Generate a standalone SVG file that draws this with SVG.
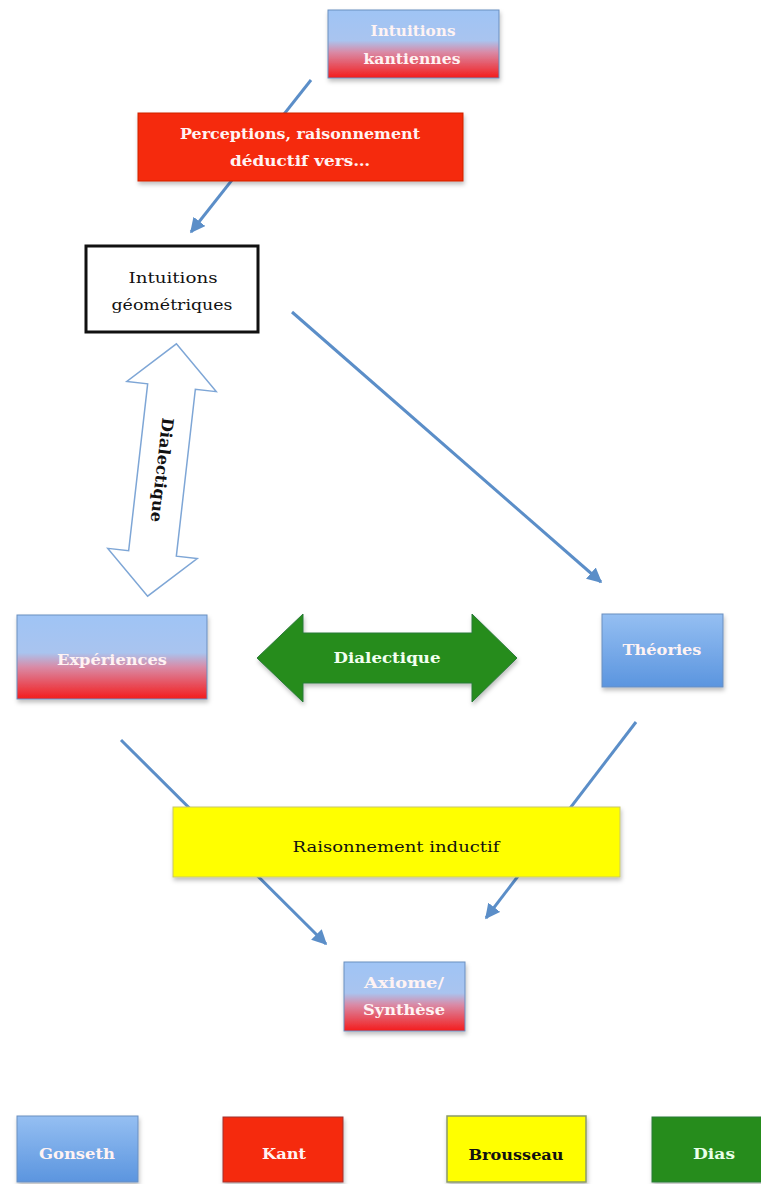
<svg xmlns="http://www.w3.org/2000/svg" width="761" height="1184" viewBox="0 0 761 1184">
<defs>
<linearGradient id="gBR" x1="0" y1="0" x2="0" y2="1">
<stop offset="0" stop-color="#9fc4f5"/>
<stop offset="0.45" stop-color="#a9c4ef"/>
<stop offset="0.62" stop-color="#d98aa6"/>
<stop offset="1" stop-color="#f41c1c"/>
</linearGradient>
<linearGradient id="gB" x1="0" y1="0" x2="0" y2="1">
<stop offset="0" stop-color="#95bff2"/>
<stop offset="1" stop-color="#5b95df"/>
</linearGradient>
<filter id="sh" x="-10%" y="-10%" width="130%" height="140%">
<feDropShadow dx="1" dy="3" stdDeviation="2" flood-color="#000" flood-opacity="0.25"/>
</filter>
<marker id="ah" viewBox="0 0 10 10" refX="9" refY="5" markerWidth="5" markerHeight="5" orient="auto">
<path d="M0,0 L10,5 L0,10 z" fill="#5b8ec8"/>
</marker>
<style>
text{font-family:"DejaVu Serif","Liberation Serif",serif;font-size:15px;text-anchor:middle;dominant-baseline:central;font-weight:bold}
.w{fill:#fff3f3}
.k{fill:#111}
.n{font-weight:normal}
.bx{stroke:#6a8fc0;stroke-width:1;filter:url(#sh)}
.con{stroke:#5b8ec8;stroke-width:3;fill:none}
</style>
</defs>

<g id="connectors">
<line class="con" x1="311" y1="80" x2="191" y2="232" marker-end="url(#ah)"/>
<line class="con" x1="292" y1="312" x2="601" y2="582" marker-end="url(#ah)"/>
<line class="con" x1="121" y1="740" x2="326" y2="944" marker-end="url(#ah)"/>
<line class="con" x1="636" y1="722" x2="486" y2="918" marker-end="url(#ah)"/>
</g>

<g id="kant-intuitions">
<rect class="bx" x="328" y="10" width="171" height="68" fill="url(#gBR)"/>
<text class="w" x="413" y="31" textLength="85" lengthAdjust="spacingAndGlyphs">Intuitions</text>
<text class="w" x="412" y="59" textLength="97" lengthAdjust="spacingAndGlyphs">kantiennes</text>
</g>

<g id="perceptions">
<rect x="138" y="113" width="325" height="68" fill="#f52a07" stroke="#d02000" stroke-width="1" filter="url(#sh)"/>
<text class="w" x="300" y="134" textLength="240" lengthAdjust="spacingAndGlyphs">Perceptions, raisonnement</text>
<text class="w" x="300" y="161" textLength="140" lengthAdjust="spacingAndGlyphs">déductif vers…</text>
</g>

<g id="intuitions-geometriques">
<rect x="86" y="246" width="172" height="86" fill="#fff" stroke="#111" stroke-width="3"/>
<text class="k n" x="173" y="278" textLength="89" lengthAdjust="spacingAndGlyphs">Intuitions</text>
<text class="k n" x="172" y="305" textLength="121" lengthAdjust="spacingAndGlyphs">géométriques</text>
</g>

<g id="dialectique-vertical" transform="translate(162,470) rotate(6.5)">
<polygon points="0,-127 45,-84 24,-84 24,84 45,84 0,127 -45,84 -24,84 -24,-84 -45,-84" fill="#fff" stroke="#7ea6d6" stroke-width="1.5"/>
<text class="k" x="0" y="0" transform="rotate(90)" style="font-size:16px" textLength="105" lengthAdjust="spacingAndGlyphs">Dialectique</text>
</g>

<g id="experiences">
<rect class="bx" x="17" y="615" width="190" height="84" fill="url(#gBR)"/>
<text class="w" x="112" y="660" textLength="110" lengthAdjust="spacingAndGlyphs">Expériences</text>
</g>

<g id="dialectique-horizontal">
<polygon points="257,658 303,614 303,633 472,633 472,614 517,658 472,702 472,683 303,683 303,702" fill="#268c1c" stroke="#2a7a3a" stroke-width="1" filter="url(#sh)"/>
<text class="w" x="387" y="658" textLength="107" lengthAdjust="spacingAndGlyphs" style="fill:#f2fff0">Dialectique</text>
</g>

<g id="theories">
<rect class="bx" x="602" y="614" width="121" height="73" fill="url(#gB)"/>
<text class="w" x="662" y="650" textLength="79" lengthAdjust="spacingAndGlyphs">Théories</text>
</g>

<g id="raisonnement-inductif">
<rect x="173" y="807" width="447" height="70" fill="#ffff00" stroke="#c8c86a" stroke-width="1" filter="url(#sh)"/>
<text class="k n" x="396" y="847" textLength="207" lengthAdjust="spacingAndGlyphs">Raisonnement inductif</text>
</g>

<g id="axiome">
<rect class="bx" x="344" y="962" width="121" height="69" fill="url(#gBR)"/>
<text class="w" x="404" y="983" textLength="80" lengthAdjust="spacingAndGlyphs">Axiome/</text>
<text class="w" x="404" y="1010" textLength="82" lengthAdjust="spacingAndGlyphs">Synthèse</text>
</g>

<g id="legend-gonseth">
<rect class="bx" x="17" y="1116" width="121" height="66" fill="url(#gB)"/>
<text class="w" x="77" y="1154" textLength="76" lengthAdjust="spacingAndGlyphs">Gonseth</text>
</g>
<g id="legend-kant">
<rect x="223" y="1117" width="120" height="65" fill="#f52a07" stroke="#a03030" stroke-width="1" filter="url(#sh)"/>
<text class="w" x="284" y="1154" textLength="44" lengthAdjust="spacingAndGlyphs">Kant</text>
</g>
<g id="legend-brousseau">
<rect x="447" y="1116" width="139" height="66" fill="#ffff00" stroke="#8a9a6a" stroke-width="1.5" filter="url(#sh)"/>
<text class="k" x="516" y="1155" textLength="95" lengthAdjust="spacingAndGlyphs">Brousseau</text>
</g>
<g id="legend-dias">
<rect x="652" y="1117" width="115" height="65" fill="#268c1c" stroke="#2a7a3a" stroke-width="1" filter="url(#sh)"/>
<text class="w" x="714" y="1154" textLength="42" lengthAdjust="spacingAndGlyphs" style="fill:#eaffea">Dias</text>
</g>
</svg>
